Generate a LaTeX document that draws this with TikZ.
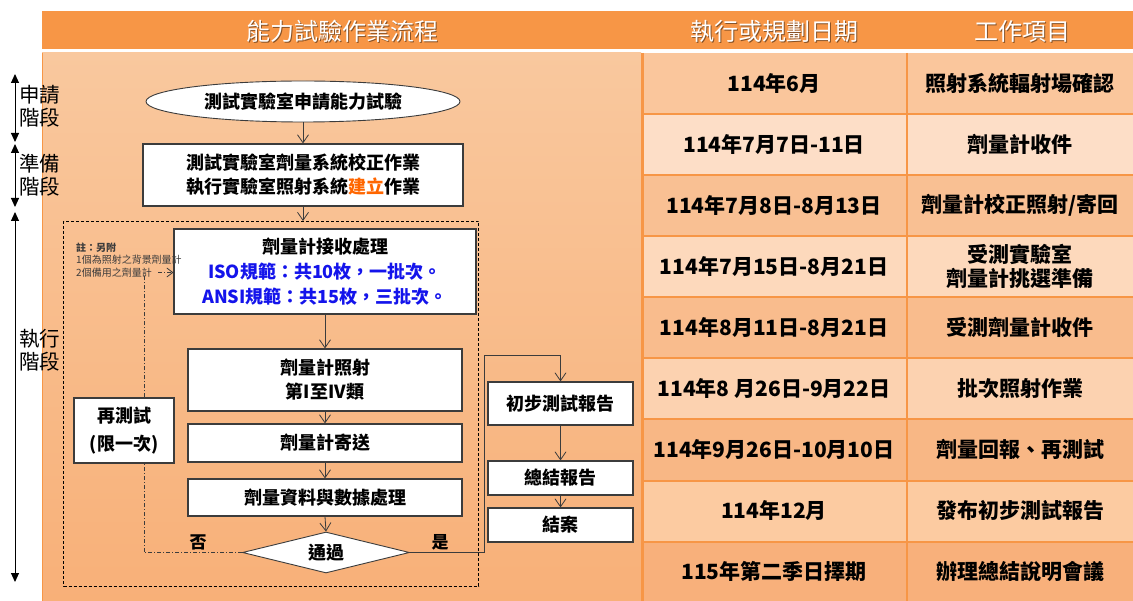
\documentclass[tikz,border=0pt]{standalone}
\usepackage{fontspec}
\setmainfont{Noto Sans CJK TC}
\usetikzlibrary{arrows.meta,shapes.geometric}
\newcommand\myfs[2]{\fontsize{#1}{#2}\selectfont}
\definecolor{hdr}{RGB}{247,150,70}
\definecolor{lpA}{RGB}{249,200,158}
\definecolor{lpB}{RGB}{248,176,120}
\definecolor{rA}{RGB}{250,198,156}
\definecolor{rB}{RGB}{253,222,199}
\definecolor{rC}{RGB}{249,192,147}
\definecolor{rD}{RGB}{253,217,188}
\definecolor{rE}{RGB}{249,188,141}
\definecolor{rF}{RGB}{252,210,176}
\definecolor{rG}{RGB}{248,183,133}
\definecolor{rH}{RGB}{252,203,161}
\definecolor{rI}{RGB}{248,176,123}
\definecolor{boxline}{RGB}{60,60,60}
\definecolor{connline}{RGB}{60,60,60}
\definecolor{orgtxt}{RGB}{255,102,0}
\definecolor{bluetxt}{RGB}{20,20,235}
\definecolor{notegray}{RGB}{60,60,60}
\tikzset{
  flowbox/.style={draw=boxline, line width=1.1pt, fill=white, inner sep=0pt, align=center, font=\myfs{18}{24}\bfseries},
  conn/.style={draw=connline, line width=0.8pt},
  arr/.style={conn, -{Straight Barb[length=8pt,width=11pt]}},
  loopline/.style={draw=connline, line width=0.8pt, dash pattern=on 4pt off 2pt on 1pt off 2pt},
  stagearr/.style={line width=1pt, {Triangle[length=9pt,width=8pt]}-{Triangle[length=9pt,width=8pt]}},
  stagelbl/.style={font=\myfs{20.5}{23}, align=center, inner sep=0pt},
  hdrtxt/.style={font=\myfs{24}{26}, text=white, inner sep=0pt},
  hdrshadow/.style={font=\myfs{24}{26}, text=black, opacity=0.45, inner sep=0pt},
  tbltxt/.style={font=\myfs{21}{24}\bfseries, align=center, inner sep=0pt},
  gridline/.style={draw=hdr, line width=1.4pt},
  frame/.style={draw=black, line width=0.9pt, dash pattern=on 3pt off 2pt},
}
\begin{document}
\begin{tikzpicture}[x=1pt,y=-1pt]
\useasboundingbox (0,0) rectangle (1133,601);
\fill[white] (0,0) rectangle (1133,601);
% header
\fill[hdr] (42,11) rectangle (1133,49.5);
\node[hdrshadow] at (343.3,32.5) {能力試驗作業流程};
\node[hdrtxt] (h1) at (342,31) {能力試驗作業流程};
\node[hdrshadow] at (775.3,32.5) {執行或規劃日期};
\node[hdrtxt] (h2) at (774,31) {執行或規劃日期};
\node[hdrshadow] at (1023.3,32.5) {工作項目};
\node[hdrtxt] (h3) at (1022,31) {工作項目};
% left panel
\shade[top color=lpA, bottom color=lpB] (42,53) rectangle (641,601);
\draw[hdr, line width=1pt] (42.5,53) -- (42.5,601);
% table rows
\fill[rA] (641,53) rectangle (1133,114);
\fill[rB] (641,114) rectangle (1133,175);
\fill[rC] (641,175) rectangle (1133,236);
\fill[rD] (641,236) rectangle (1133,297);
\fill[rE] (641,297) rectangle (1133,358);
\fill[rF] (641,358) rectangle (1133,419);
\fill[rG] (641,419) rectangle (1133,481);
\fill[rH] (641,481) rectangle (1133,542);
\fill[rI] (641,542) rectangle (1133,603);
\foreach \yy in {114,175,236,297,358,419,481,542} {\draw[gridline] (641,\yy) -- (1133,\yy);}
\draw[gridline] (907,53) -- (907,601);
\draw[hdr, line width=3pt] (642,53) -- (642,601);
% table text
\node[tbltxt] (d1) at (774,83.5) {114年6月};
\node[tbltxt] (d2) at (774,144.5) {114年7月7日-11日};
\node[tbltxt] (d3) at (774,205.5) {114年7月8日-8月13日};
\node[tbltxt] (d4) at (774,266.5) {114年7月15日-8月21日};
\node[tbltxt] (d5) at (774,327.5) {114年8月11日-8月21日};
\node[tbltxt] (d6) at (774,388.5) {114年8 月26日-9月22日};
\node[tbltxt] (d7) at (774,449.5) {114年9月26日-10月10日};
\node[tbltxt] (d8) at (774,510.5) {114年12月};
\node[tbltxt] (d9) at (774,571.5) {115年第二季日擇期};
\node[tbltxt] (w1) at (1020,83.5) {照射系統輻射場確認};
\node[tbltxt] (w2) at (1020,144.5) {劑量計收件};
\node[tbltxt] (w3) at (1020,205.5) {劑量計校正照射/寄回};
\node[tbltxt] (w4) at (1020,266.5) {受測實驗室\\劑量計挑選準備};
\node[tbltxt] (w5) at (1020,327.5) {受測劑量計收件};
\node[tbltxt] (w6) at (1020,388.5) {批次照射作業};
\node[tbltxt] (w7) at (1020,449.5) {劑量回報、再測試};
\node[tbltxt] (w8) at (1020,510.5) {發布初步測試報告};
\node[tbltxt] (w9) at (1020,571.5) {辦理總結說明會議};
% dashed frame
\draw[frame] (63.5,221) rectangle (478.5,586);
% flow nodes
\node[flowbox, ellipse, line width=0.9pt, minimum width=314pt, minimum height=41pt] (ell) at (303,101.5) {測試實驗室申請能力試驗};
\node[flowbox, minimum width=320pt, minimum height=62pt] (b2) at (303,175) {測試實驗室劑量系統校正作業\\執行實驗室照射系統{\color{orgtxt}建立}作業};
\node[flowbox, minimum width=302pt, minimum height=85pt, font=\myfs{18}{25}\bfseries] (b3) at (325,271.5) {劑量計接收處理\\{\color{bluetxt}ISO規範：共10枚，一批次。}\\{\color{bluetxt}ANSI規範：共15枚，三批次。}};
\node[flowbox, minimum width=274pt, minimum height=62pt] (b4) at (325,380) {劑量計照射\\第I至IV類};
\node[flowbox, minimum width=274pt, minimum height=38pt] (b5) at (325,443) {劑量計寄送};
\node[flowbox, minimum width=274pt, minimum height=37pt] (b6) at (325,497.5) {劑量資料與數據處理};
\node[flowbox, diamond, aspect=4, line width=0.9pt, minimum width=167pt, minimum height=41pt] (dia) at (326,552.5) {通過};
\node[flowbox, minimum width=100pt, minimum height=65pt, font=\myfs{18}{28}\bfseries] (rt) at (124,430.5) {再測試\\(限一次)};
\node[flowbox, minimum width=145pt, minimum height=43pt] (p1) at (560.5,403.5) {初步測試報告};
\node[flowbox, minimum width=145pt, minimum height=34pt] (p2) at (560.5,478) {總結報告};
\node[flowbox, minimum width=145pt, minimum height=34pt] (p3) at (560.5,525) {結案};
\node[font=\myfs{17}{20}\bfseries, inner sep=0pt] (no) at (198,542) {否};
\node[font=\myfs{17}{20}\bfseries, inner sep=0pt] (yes) at (440,542) {是};
\node[font=\myfs{10}{12.5}, text=notegray, align=left, anchor=west, inner sep=0pt] (note) at (76,260) {{\bfseries 註：另附}\\1個為照射之背景劑量計\\2個備用之劑量計};
% connectors
\coordinate (ftop) at (303,221);
\draw[arr] (ell.south) -- (b2.north);
\draw[arr] (b2.south) -- (ftop);
\draw[arr] (b3.south) -- (b4.north);
\draw[arr] (b4.south) -- (b5.north);
\draw[arr] (b5.south) -- (b6.north);
\draw[arr] (b6.south) -- (dia.north);
\coordinate (yesTurn) at (484,355);
\draw[arr] (dia.east) -- (dia.east -| yesTurn) -- (yesTurn) -- (yesTurn -| p1.north) -- (p1.north);
\draw[arr] (p1.south) -- (p2.north);
\draw[arr] (p2.south) -- (p3.north);
\coordinate (loopX) at (144,275);
\draw[loopline] (dia.west) -- (dia.west -| loopX) -- (loopX |- rt.south);
\draw[loopline] (loopX |- rt.north) -- (loopX);
\coordinate (noteEnd) at (158,272.5);
\draw[loopline, -{Straight Barb[length=6pt,width=9pt]}] (noteEnd) -- (noteEnd -| b3.west);
% stage arrows
\coordinate (s1a) at (15,74);
\coordinate (s1b) at (15,142);
\coordinate (s2a) at (15,144);
\coordinate (s2b) at (15,207);
\coordinate (s3a) at (15,212);
\coordinate (s3b) at (15,582);
\draw[stagearr] (s1a) -- (s1b);
\draw[stagearr] (s2a) -- (s2b);
\draw[stagearr] (s3a) -- (s3b);
\node[stagelbl] (l1) at (40,106.5) {申請\\階段};
\node[stagelbl] (l2) at (40,175) {準備\\階段};
\node[stagelbl] (l3) at (40,350) {執行\\階段};
\end{tikzpicture}
\end{document}
